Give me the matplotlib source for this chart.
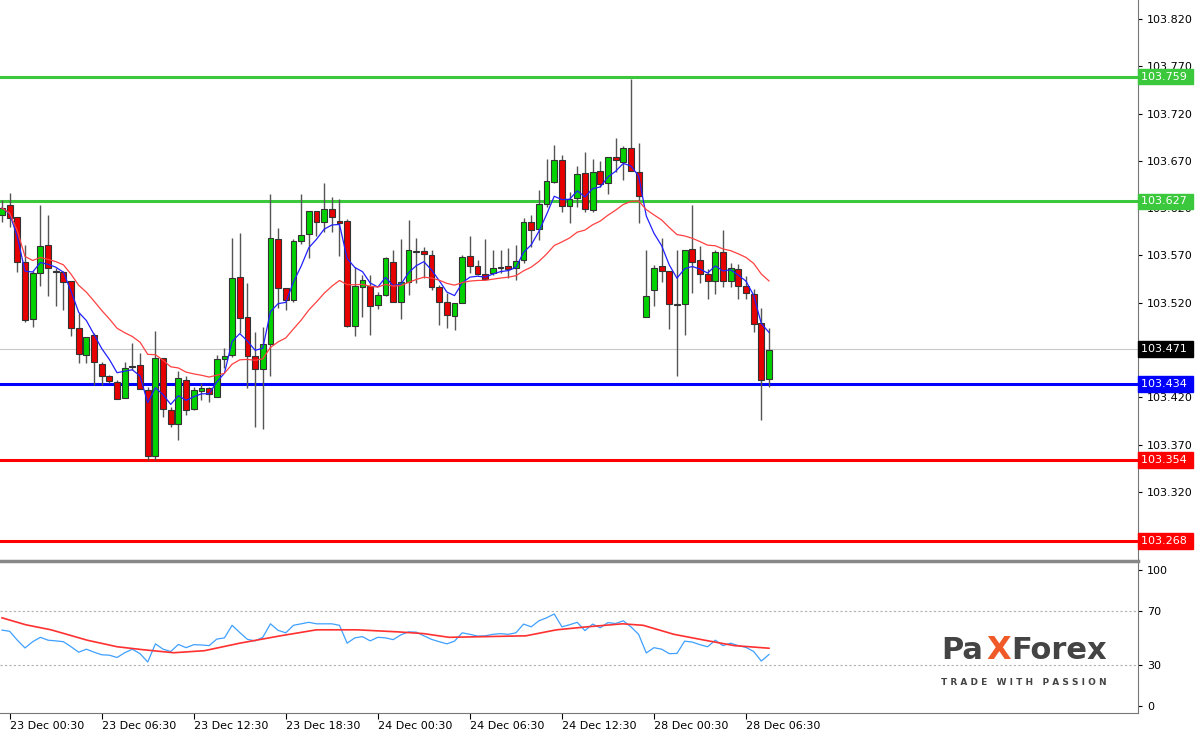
import numpy as np
import pandas as pd
import matplotlib
matplotlib.use("Agg")
import matplotlib.pyplot as plt
from matplotlib.patches import Rectangle

# 30 min candles
opens = [103.613, 103.623, 103.611, 103.563, 103.503, 103.551, 103.581, 103.553, 103.552, 103.543,
         103.493, 103.465, 103.486, 103.455, 103.442, 103.436, 103.419, 103.452, 103.454, 103.428,
         103.358, 103.462, 103.407, 103.392, 103.438, 103.408, 103.427, 103.430, 103.420, 103.461,
         103.465, 103.547, 103.505, 103.464, 103.450, 103.476, 103.587, 103.536, 103.523, 103.585,
         103.593, 103.617, 103.605, 103.619, 103.606, 103.606, 103.495, 103.537, 103.538, 103.518,
         103.528, 103.563, 103.521, 103.542, 103.574, 103.575, 103.570, 103.537, 103.521, 103.506,
         103.520, 103.569, 103.559, 103.550, 103.551, 103.557, 103.559, 103.557, 103.565, 103.605,
         103.598, 103.624, 103.648, 103.671, 103.622, 103.631, 103.657, 103.618, 103.659, 103.647,
         103.674, 103.669, 103.684, 103.658, 103.505, 103.533, 103.559, 103.554, 103.518, 103.519,
         103.577, 103.565, 103.550, 103.543, 103.574, 103.543, 103.556, 103.538, 103.529, 103.499,
         103.439]
highs = [103.629, 103.636, 103.611, 103.581, 103.554, 103.623, 103.613, 103.557, 103.553, 103.543,
         103.509, 103.484, 103.488, 103.457, 103.444, 103.438, 103.457, 103.477, 103.467, 103.431,
         103.490, 103.462, 103.410, 103.448, 103.442, 103.431, 103.435, 103.431, 103.465, 103.472,
         103.588, 103.594, 103.541, 103.489, 103.494, 103.635, 103.599, 103.536, 103.587, 103.635,
         103.617, 103.617, 103.647, 103.632, 103.630, 103.609, 103.558, 103.549, 103.549, 103.531,
         103.568, 103.576, 103.587, 103.607, 103.588, 103.579, 103.576, 103.539, 103.530, 103.520,
         103.570, 103.590, 103.565, 103.587, 103.576, 103.576, 103.578, 103.581, 103.610, 103.613,
         103.639, 103.672, 103.687, 103.676, 103.637, 103.665, 103.679, 103.672, 103.670, 103.674,
         103.694, 103.686, 103.757, 103.689, 103.576, 103.560, 103.588, 103.554, 103.576, 103.576,
         103.623, 103.580, 103.556, 103.576, 103.597, 103.562, 103.561, 103.548, 103.535, 103.514,
         103.493]
lows = [103.605, 103.600, 103.552, 103.500, 103.494, 103.538, 103.527, 103.516, 103.512, 103.485,
        103.456, 103.456, 103.433, 103.433, 103.435, 103.418, 103.419, 103.449, 103.429, 103.354,
        103.354, 103.399, 103.389, 103.375, 103.401, 103.407, 103.417, 103.415, 103.420, 103.451,
        103.463, 103.488, 103.430, 103.389, 103.386, 103.442, 103.514, 103.512, 103.521, 103.582,
        103.567, 103.590, 103.595, 103.595, 103.569, 103.494, 103.485, 103.505, 103.486, 103.513,
        103.527, 103.521, 103.503, 103.528, 103.541, 103.546, 103.533, 103.496, 103.493, 103.491,
        103.520, 103.551, 103.549, 103.544, 103.549, 103.551, 103.546, 103.544, 103.562, 103.579,
        103.586, 103.621, 103.647, 103.616, 103.604, 103.621, 103.616, 103.616, 103.642, 103.635,
        103.658, 103.650, 103.659, 103.604, 103.505, 103.516, 103.542, 103.492, 103.443, 103.486,
        103.530, 103.541, 103.524, 103.529, 103.537, 103.537, 103.524, 103.524, 103.489, 103.396,
        103.431]
closes = [103.620, 103.610, 103.563, 103.502, 103.551, 103.580, 103.557, 103.552, 103.542, 103.493,
          103.466, 103.484, 103.457, 103.442, 103.437, 103.418, 103.451, 103.452, 103.429, 103.358,
          103.462, 103.408, 103.392, 103.440, 103.407, 103.428, 103.430, 103.424, 103.461, 103.464,
          103.546, 103.504, 103.464, 103.450, 103.476, 103.588, 103.536, 103.523, 103.585, 103.592,
          103.617, 103.605, 103.619, 103.611, 103.604, 103.495, 103.538, 103.544, 103.517, 103.528,
          103.567, 103.521, 103.542, 103.576, 103.574, 103.572, 103.537, 103.521, 103.507, 103.520,
          103.568, 103.559, 103.550, 103.545, 103.557, 103.558, 103.556, 103.564, 103.605, 103.597,
          103.624, 103.649, 103.671, 103.622, 103.630, 103.656, 103.619, 103.658, 103.646, 103.674,
          103.671, 103.684, 103.659, 103.633, 103.527, 103.557, 103.554, 103.519, 103.518, 103.576,
          103.563, 103.550, 103.543, 103.574, 103.543, 103.557, 103.538, 103.530, 103.498, 103.438,
          103.470]

# oscillator panel
osc_fast = [55.8, 54.9, 48.4, 42.7, 47.3, 50.5, 48.4, 47.9, 47.3, 43.6,
            39.6, 41.8, 39.6, 37.7, 37.4, 35.7, 39.2, 41.8, 38.5, 32.4,
            45.7, 41.8, 40.1, 45.3, 42.9, 45.1, 44.9, 44.4, 49.2, 50.1,
            59.3, 54.0, 49.0, 47.9, 50.5, 60.4, 55.6, 53.8, 59.3, 60.4,
            61.5, 60.4, 60.4, 60.4, 59.3, 46.2, 50.1, 51.0, 47.9, 50.5,
            50.1, 48.8, 52.3, 54.5, 54.3, 51.6, 49.0, 47.3, 45.7, 47.7,
            53.8, 52.7, 51.4, 51.6, 52.7, 53.2, 52.7, 53.8, 60.2, 58.2,
            62.6, 64.8, 67.6, 58.2, 59.7, 61.5, 55.4, 60.2, 57.5, 61.3,
            60.6, 62.6, 58.2, 52.7, 39.0, 42.9, 41.8, 38.5, 38.7, 47.7,
            47.0, 45.1, 43.6, 48.4, 44.4, 46.2, 44.4, 43.1, 40.1, 33.1, 37.9]
osc_slow_idx = [0, 3.1, 6.4, 11.1, 15.0, 18.4, 22.4, 26.4, 31.0, 36.3, 41.0, 46.3, 51.6,
                55.0, 58.3, 62.9, 68.3, 72.3, 76.3, 80.9, 83.6, 87.6, 91.6, 95.5, 100]
osc_slow = [64.8, 59.7, 56.0, 48.4, 43.6, 41.4, 39.2, 40.7, 46.2, 51.6, 56.0, 56.0, 54.5,
            53.2, 50.5, 51.0, 51.6, 56.0, 58.2, 60.4, 59.3, 52.7, 48.4, 44.4, 42.5]

tick_idx = [1, 13, 25, 37, 49, 61, 73, 85, 97]
tick_labels = ["23 Dec 00:30", "23 Dec 06:30", "23 Dec 12:30", "23 Dec 18:30", "24 Dec 00:30",
               "24 Dec 06:30", "24 Dec 12:30", "28 Dec 00:30", "28 Dec 06:30"]

levels = [103.759, 103.627, 103.434, 103.354, 103.268]
level_colors = ["#3cc83c", "#3cc83c", "#0000ff", "#ff0000", "#ff0000"]
last_price = 103.471

W, H = 1200, 731
fig = plt.figure(figsize=(12, 7.31), dpi=100)
ax = fig.add_axes([0, 1 - 560 / H, 1138 / W, 560 / H])
ax2 = fig.add_axes([0, 1 - 713 / H, 1138 / W, 150 / H])

x = np.arange(len(closes))
xlim = (-2 / 7.67, (1138 - 2) / 7.67)

for i in x:
    o, h, l, c = opens[i], highs[i], lows[i], closes[i]
    up = c >= o
    ax.vlines(i, l, h, color="#555555", lw=1, zorder=2)
    bottom = min(o, c)
    height = max(abs(c - o), 0.0008)
    ax.add_patch(Rectangle((i - 0.38, bottom), 0.76, height,
                           facecolor="#00d200" if up else "#e60000",
                           edgecolor="#333333", lw=0.8, zorder=3))

cl = pd.Series(closes)
ax.plot(x, cl.ewm(span=5).mean(), color="#2020ff", lw=0.9, zorder=4)
ax.plot(x, cl.ewm(span=21).mean(), color="#ff4040", lw=0.9, zorder=4)

for lv, col in zip(levels, level_colors):
    ax.axhline(lv, color=col, lw=2.2, zorder=1)
ax.axhline(last_price, color="#c8c8c8", lw=0.8, zorder=0)

ax.set_xlim(*xlim)
ax.set_ylim(103.248, 103.840)
ax.yaxis.tick_right()
yt = np.arange(103.320, 103.821, 0.05)
ax.set_yticks(yt)
# the 103.470 label sits under the last price tag, as in the terminal
ax.set_yticklabels(["" if abs(v - 103.47) < 1e-6 else f"{v:.3f}" for v in yt])
ax.tick_params(axis="y", labelsize=8, length=3, pad=3, colors="#000000")
ax.set_xticks([])
for s in ["top", "left", "bottom"]:
    ax.spines[s].set_visible(False)
ax.spines["right"].set_color("#777777")

# highlighted price tags drawn over the scale labels
tags = levels + [last_price]
tag_cols = level_colors + ["#000000"]
for lv, col in zip(tags, tag_cols):
    ax.text(1.0 + 3 / 1138, lv, f"{lv:.3f} ", transform=ax.get_yaxis_transform(),
            fontsize=8, color="white", va="center", ha="left", zorder=10,
            bbox=dict(boxstyle="square,pad=0.25", fc=col, ec=col), clip_on=False)

# separator
fig.add_artist(plt.Line2D([0, 1138 / W], [1 - 561 / H, 1 - 561 / H], color="#888888", lw=2.5))

ax2.plot(x, osc_fast, color="#3fa0ff", lw=0.9)
ax2.plot(osc_slow_idx, osc_slow, color="#ff3030", lw=1.2)
for lv in [30, 70]:
    ax2.axhline(lv, color="#b0b0b0", lw=0.8, ls=(0, (2, 2)))
ax2.set_xlim(*xlim)
ax2.set_ylim(-5, 105)
ax2.yaxis.tick_right()
ax2.set_yticks([0, 30, 70, 100])
ax2.tick_params(axis="y", labelsize=8, length=3)
ax2.set_xticks(tick_idx)
ax2.set_xticklabels(tick_labels, ha="left")
ax2.tick_params(axis="x", labelsize=8, length=4, pad=2)
for s in ["top", "left"]:
    ax2.spines[s].set_visible(False)
ax2.spines["right"].set_color("#777777")
ax2.spines["bottom"].set_color("#777777")

# logo
fig.text(0.784, 0.098, "Pa", fontsize=22, color="#444444", weight="bold", va="baseline")
fig.text(0.822, 0.098, "X", fontsize=23, color="#f05a28", weight="bold", va="baseline")
fig.text(0.843, 0.098, "Forex", fontsize=22, color="#444444", weight="bold", va="baseline")
fig.text(0.784, 0.063, "T R A D E   W I T H   P A S S I O N", fontsize=6.5, color="#444444",
         weight="bold", va="baseline")

fig.savefig("out.png", dpi=100, facecolor="white")
